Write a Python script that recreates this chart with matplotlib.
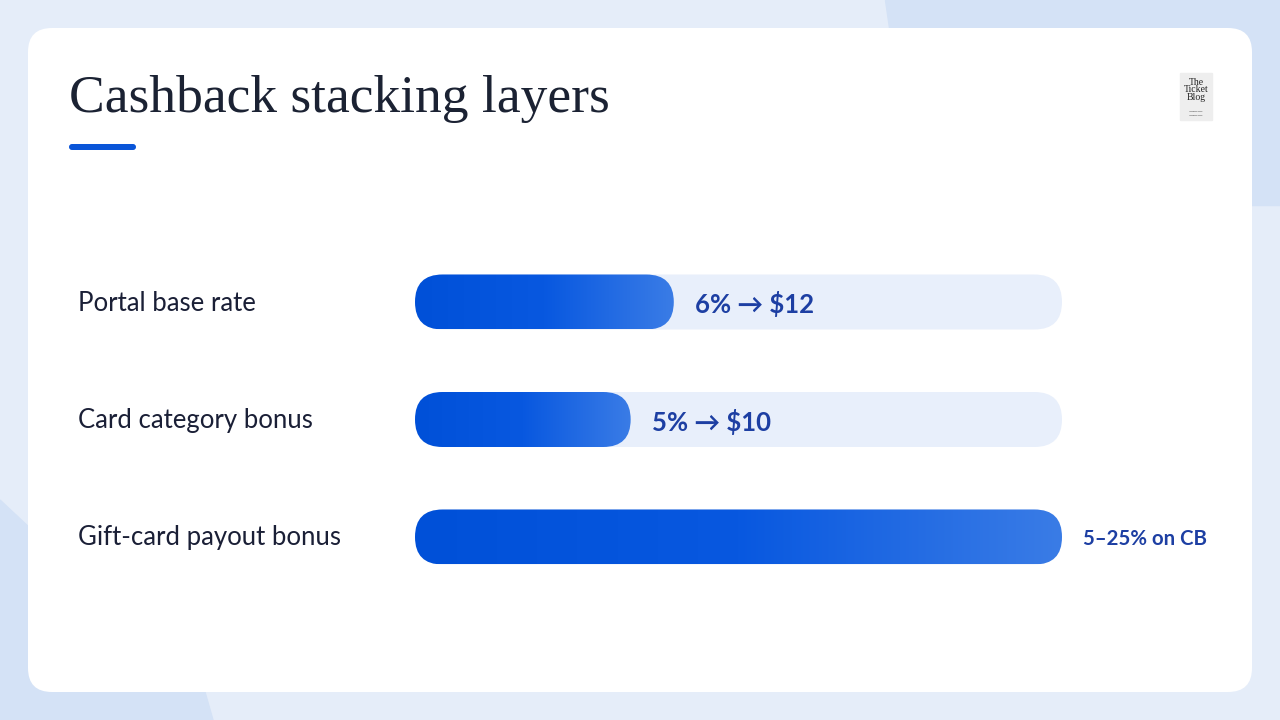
import numpy as np
from matplotlib import pyplot as plt
from matplotlib.patches import FancyBboxPatch, Polygon
from matplotlib.colors import LinearSegmentedColormap

# data
list_label = ['Portal base rate', 'Card category bonus', 'Gift-card payout bonus']
list_value = [6, 5, 15]          # % ; the third is capped at the scale maximum
list_text = ['6% \u2192 $12', '5% \u2192 $10', '5\u201325% on CB']
max_scale = 15
title = 'Cashback stacking layers'

W, H = 1280, 720
fig = plt.figure(figsize=(W / 100, H / 100), dpi=100)

# background + card, in pixel coordinates
bg = fig.add_axes([0, 0, 1, 1])
bg.set_xlim(0, W)
bg.set_ylim(H, 0)
bg.axis('off')
bg.add_patch(Polygon([[0, 0], [W, 0], [W, H], [0, H]], color='#e5edf9', zorder=0))
bg.add_patch(Polygon([[885, 0], [W, 0], [W, 205], [915, 205]], color='#d4e2f6', zorder=0))
bg.add_patch(Polygon([[0, 500], [205, 692], [213, 720], [0, 720]], color='#d4e2f6', zorder=0))
bg.add_patch(FancyBboxPatch((28, 28), 1224, 664, boxstyle='round,pad=0,rounding_size=24',
                            fc='white', ec='none', zorder=1))

bg.text(69, 99, title, fontsize=38.5, family='Liberation Serif', color='#1b2233',
        va='center', ha='left', zorder=3)
bg.add_patch(FancyBboxPatch((69, 144), 67, 6, boxstyle='round,pad=0,rounding_size=3',
                            fc='#0a55d8', ec='none', zorder=3))

# little logo
bg.add_patch(Polygon([[1180, 73], [1212, 73], [1212, 120], [1180, 120]], color='#eeeeee', zorder=2))
bg.text(1196, 90, 'The\nTicket\nBlog', fontsize=7, family='Liberation Serif', color='#222222',
        ha='center', va='center', linespacing=0.8, zorder=3)
bg.text(1196, 114, '\u2014\u2014\u2014\n\u2014\u2014\u2014', fontsize=3.5, color='#444444',
        ha='center', va='center', linespacing=0.6, zorder=3)

# bar axes
row_px = 117.5
top_px = 302 - row_px / 2
ax = fig.add_axes([415 / W, 1 - (top_px + 3 * row_px) / H, 647 / W, 3 * row_px / H])
ax.set_xlim(0, max_scale)
ax.set_ylim(2.5, -0.5)
ax.axis('off')

bar_h = 55 / row_px
px_x = 647 / max_scale
r = 27.5 / px_x
asp = px_x / row_px
cmap = LinearSegmentedColormap.from_list('blu', ['#0050d8', '#0858e0', '#3a7ce6'])
grad = np.linspace(0, 1, 256).reshape(1, -1)

for i, (lab, v, txt) in enumerate(zip(list_label, list_value, list_text)):
    track = FancyBboxPatch((0, i - bar_h / 2), max_scale, bar_h,
                           boxstyle='round,pad=0,rounding_size=%f' % r, mutation_aspect=asp,
                           fc='#e8effb', ec='none', zorder=1)
    ax.add_patch(track)
    fill = FancyBboxPatch((0, i - bar_h / 2), v, bar_h,
                          boxstyle='round,pad=0,rounding_size=%f' % r, mutation_aspect=asp,
                          fc='none', ec='none', zorder=2)
    ax.add_patch(fill)
    im = ax.imshow(grad, cmap=cmap, aspect='auto', extent=[0, v, i + bar_h / 2, i - bar_h / 2],
                   zorder=2, interpolation='bilinear')
    im.set_clip_path(fill)
    fs = 18.5 if v < max_scale else 14.7
    ax.annotate(txt, xy=(v, i), xytext=(15.1, -1.5), textcoords='offset points',
                fontsize=fs, fontweight='bold', family=['Lato', 'DejaVu Sans'],
                color='#1d3fa3', va='center', ha='left', annotation_clip=False)
    fig.text(78 / W, 1 - (303 + i * row_px) / H, lab, fontsize=18.5,
             family=['Lato', 'DejaVu Sans'], color='#1a1f36', va='center', ha='left')

ax.set_xlim(0, max_scale)
ax.set_ylim(2.5, -0.5)

fig.savefig('out.png', dpi=100)
